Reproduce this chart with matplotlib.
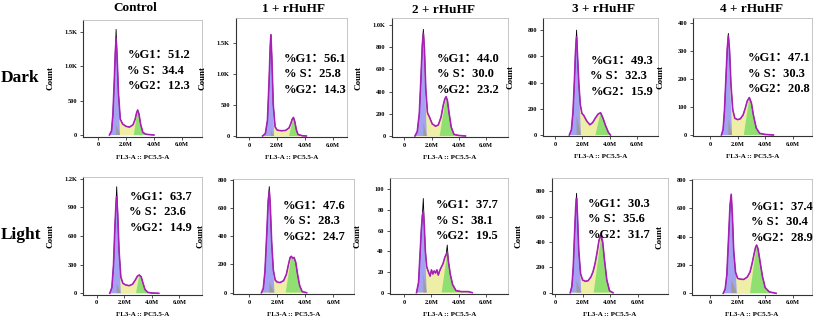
import matplotlib
matplotlib.use("Agg")
import matplotlib.pyplot as plt
from matplotlib.patches import Polygon
import numpy as np

# ------------------------------------------------------------------ data
conditions = ["Control", "1 + rHuHF", "2 + rHuHF", "3 + rHuHF", "4 + rHuHF"]
row_names = ["Dark", "Light"]

dark_g1 = [51.2, 56.1, 44.0, 49.3, 47.1]
dark_s = [34.4, 25.8, 30.0, 32.3, 30.3]
dark_g2 = [12.3, 14.3, 23.2, 15.9, 20.8]
light_g1 = [63.7, 47.6, 37.7, 30.3, 37.4]
light_s = [23.6, 28.3, 38.1, 35.6, 30.4]
light_g2 = [14.9, 24.7, 19.5, 31.7, 28.9]

# fitted envelope (FL3-A in millions, count)
dark_ctrl_x = [0.80, 0.95, 1.05, 1.15, 1.22, 1.28, 1.35, 1.45, 1.58, 1.75, 2.0, 2.25, 2.5, 2.65, 2.75, 2.83, 2.92, 3.05, 3.2, 3.4, 3.7, 4.0]
dark_ctrl_y = [0, 60, 300, 800, 1200, 1400, 1150, 600, 230, 160, 125, 115, 150, 230, 320, 363, 310, 150, 40, 12, 5, 0]
dark_r1_x = [0.95, 1.15, 1.3, 1.42, 1.5, 1.55, 1.62, 1.72, 1.85, 2.0, 2.3, 2.6, 2.85, 2.98, 3.08, 3.17, 3.26, 3.38, 3.5, 3.8, 4.1]
dark_r1_y = [0, 40, 250, 900, 1450, 1630, 1250, 500, 150, 95, 85, 90, 130, 200, 270, 300, 240, 100, 25, 5, 0]
dark_r2_x = [0.78, 0.95, 1.1, 1.22, 1.32, 1.40, 1.48, 1.58, 1.7, 1.85, 2.05, 2.3, 2.5, 2.7, 2.85, 2.97, 3.07, 3.17, 3.3, 3.45, 3.65, 4.0, 4.5]
dark_r2_y = [0, 40, 200, 520, 820, 925, 780, 420, 210, 170, 110, 88, 100, 170, 270, 330, 354, 320, 200, 80, 15, 5, 0]
dark_r3_x = [1.05, 1.2, 1.32, 1.42, 1.5, 1.58, 1.65, 1.75, 1.85, 1.97, 2.1, 2.3, 2.55, 2.75, 2.95, 3.15, 3.33, 3.5, 3.7, 3.9, 4.05]
dark_r3_y = [0, 40, 180, 420, 640, 750, 600, 380, 230, 165, 150, 110, 78, 95, 130, 160, 170, 130, 70, 20, 0]
dark_r4_x = [0.83, 0.95, 1.05, 1.15, 1.25, 1.33, 1.42, 1.52, 1.65, 1.8, 2.0, 2.2, 2.4, 2.55, 2.7, 2.85, 3.0, 3.15, 3.35, 3.6, 4.0, 4.6]
dark_r4_y = [0, 20, 90, 200, 310, 355, 300, 180, 90, 60, 55, 58, 72, 95, 122, 134, 115, 70, 25, 6, 2, 0]

light_ctrl_x = [0.95, 1.1, 1.22, 1.32, 1.4, 1.45, 1.52, 1.62, 1.75, 1.9, 2.1, 2.35, 2.6, 2.8, 2.95, 3.09, 3.22, 3.35, 3.5, 3.7, 4.0, 4.5]
light_ctrl_y = [0, 60, 300, 700, 950, 1013, 850, 450, 170, 105, 88, 80, 95, 140, 180, 192, 175, 110, 40, 10, 3, 0]
light_r1_x = [0.87, 1.0, 1.12, 1.25, 1.35, 1.43, 1.5, 1.6, 1.72, 1.85, 2.0, 2.2, 2.45, 2.65, 2.8, 2.92, 3.0, 3.1, 3.2, 3.32, 3.45, 3.6, 3.78, 4.1]
light_r1_y = [0, 30, 150, 420, 650, 721, 620, 360, 160, 90, 75, 72, 85, 130, 200, 250, 258, 245, 250, 215, 130, 50, 8, 0]
light_r2_x = [0.9, 1.05, 1.15, 1.25, 1.33, 1.4, 1.47, 1.55, 1.65, 1.78, 1.9, 2.0, 2.1, 2.2, 2.3, 2.4, 2.5, 2.6, 2.7, 2.85, 2.98, 3.08, 3.16, 3.25, 3.38, 3.55, 3.8, 4.2, 4.7, 5.0]
light_r2_y = [0, 10, 35, 60, 75, 78, 65, 40, 25, 20, 16, 22, 18, 21, 19, 22, 17, 21, 24, 28, 34, 37, 38, 30, 18, 8, 2, 1, 1, 0]
light_r3_x = [1.1, 1.22, 1.32, 1.42, 1.5, 1.56, 1.63, 1.72, 1.85, 2.0, 2.2, 2.4, 2.6, 2.75, 2.9, 3.05, 3.18, 3.28, 3.35, 3.45, 3.58, 3.75, 3.95, 4.2]
light_r3_y = [0, 50, 200, 480, 680, 743, 600, 330, 150, 100, 90, 95, 125, 165, 230, 320, 410, 450, 454, 400, 260, 100, 15, 0]
light_r4_x = [0.96, 1.1, 1.22, 1.35, 1.45, 1.54, 1.62, 1.72, 1.85, 2.0, 2.2, 2.45, 2.7, 2.9, 3.05, 3.2, 3.3, 3.38, 3.48, 3.62, 3.8, 4.0, 4.3, 4.8]
light_r4_y = [0, 30, 130, 400, 620, 700, 560, 300, 150, 106, 100, 98, 115, 150, 210, 280, 325, 341, 315, 230, 120, 40, 10, 0]

# raw histogram peak heights (black line)
dark_raw_g1 = [1536, 1640, 961, 801, 364]
dark_raw_g2 = [363, 300, 354, 170, 134]
light_raw_g1 = [1118, 752, 91, 783, 700]
light_raw_g2 = [192, 258, 46, 427, 341]

# model component boundaries
dark_g1_end = [1.56, 1.78, 1.65, 1.9, 1.6]
dark_s_level = [150, 90, 120, 150, 58]
dark_g2_start = [2.55, 2.85, 2.6, 2.95, 2.45]
light_g1_end = [1.75, 1.8, 1.65, 1.9, 1.95]
light_s_level = [100, 75, 18, 95, 100]
light_g2_start = [2.85, 2.6, 2.75, 2.8, 2.9]

dark_yticks = [[0, 500, 1000, 1500], [0, 500, 1000, 1500], [0, 200, 400, 600, 800, 1000],
               [0, 200, 400, 600, 800], [0, 100, 200, 300, 400]]
light_yticks = [[0, 300, 600, 900, 1200], [0, 200, 400, 600, 800], [0, 20, 40, 60, 80, 100],
                [0, 200, 400, 600, 800], [0, 200, 400, 600, 800]]
x_ticks = [0, 2, 4, 6]
x_tick_labels = ["0", "2.0M", "4.0M", "6.0M"]

# ------------------------------------------------------------------ layout (pixels)
W, H = 817, 324
layout_dark = [
    dict(box=(83.3, 202.3, 20, 136.7), xlim=(-1.08, 7.48), ylim=(-25, 1672), txt=(0.37, 0.70)),
    dict(box=(236, 346.7, 18.3, 137), xlim=(-0.96, 7.0), ylim=(-16, 1898), txt=(0.43, 0.66)),
    dict(box=(391.7, 508.3, 18.3, 137), xlim=(-0.93, 7.65), ylim=(-9, 1060), txt=(0.39, 0.66)),
    dict(box=(543.3, 658.3, 18.3, 136), xlim=(-0.85, 7.54), ylim=(-7.6, 891), txt=(0.41, 0.64)),
    dict(box=(693.3, 811.7, 18.3, 136), xlim=(-1.21, 7.37), ylim=(-3.6, 418), txt=(0.46, 0.66)),
]
layout_light = [
    dict(box=(83.3, 201.7, 176.7, 294.5), xlim=(-0.97, 7.61), ylim=(-12.6, 1223), txt=(0.39, 0.83)),
    dict(box=(233.3, 354, 179, 294), xlim=(-1.14, 7.48), ylim=(-9.2, 806), txt=(0.41, 0.77)),
    dict(box=(390, 508.3, 178.3, 294), xlim=(-1.05, 7.65), ylim=(-1.3, 110.5), txt=(0.39, 0.77)),
    dict(box=(551.7, 668.3, 178.3, 294), xlim=(-0.24, 8.2), ylim=(-10, 901), txt=(0.31, 0.78)),
    dict(box=(692.3, 811.7, 179, 294.5), xlim=(-1.28, 7.37), ylim=(-8.5, 808), txt=(0.49, 0.76)),
]
title_pos = [(135, 8), (293, 9.5), (443, 10), (604, 8.5), (751.7, 9.5)]
row_pos = [(20, 78), (21, 235)]

SERIF = ["Liberation Serif", "DejaVu Serif"]
TXT = ["Liberation Serif", "Noto Sans CJK SC", "DejaVu Sans"]
BLUE, YELLOW, GREEN, GRAY = "#a3a3f2", "#eeeea6", "#8fe070", "#9c9c9c"
MAGENTA = "#b41ec4"

fig = plt.figure(figsize=(W / 100, H / 100), dpi=100)


def ylab(v):
    if v == 0:
        return "0"
    if v >= 1000:
        return f"{v / 1000:.1f}K"
    return str(v)


def draw_panel(lay, xs, ys, raw1, raw2, g1_end, s_level, g2_start, yt, pcts):
    l, r, t, b = lay["box"]
    ax = fig.add_axes([l / W, 1 - b / H, (r - l) / W, (b - t) / H])
    axw, axh = r - l, b - t
    x = np.asarray(xs, float)
    y = np.asarray(ys, float)
    big = y.max() * 3
    # yellow base (S)
    base = ax.fill_between(x, y, 0, color=YELLOW, lw=0, zorder=1)
    clip = base.get_paths()[0]
    i1 = int(np.argmax(np.where(x < g1_end, y, -1)))
    i2 = int(np.argmax(np.where(x > g2_start, y, -1)))
    xmin, xmax = x[0] - 1, x[-1] + 1
    polys = [
        (Polygon([(xmin, 0), (xmin, big), (x[i1], big), (x[i1], y[i1]), (g1_end, 0)]), BLUE),
        (Polygon([(x[i1], 0), (x[i1], s_level), (g1_end, 0)]), GRAY),
        (Polygon([(g2_start, 0), (x[i2], y[i2]), (x[i2], big), (xmax, big), (xmax, 0)]), GREEN),
    ]
    for p, c in polys:
        p.set_facecolor(c)
        p.set_edgecolor("none")
        p.set_zorder(2)
        ax.add_patch(p)
        p.set_clip_path(clip, ax.transData)
    yraw = y.copy()
    yraw[i1] = raw1
    yraw[i2] = raw2
    ax.plot(x, yraw, color="black", lw=0.6, zorder=3)
    ax.plot(x, y, color=MAGENTA, lw=1.2, zorder=4, alpha=0.9)

    ax.set_xlim(*lay["xlim"])
    ax.set_ylim(*lay["ylim"])
    ax.set_xticks(x_ticks)
    ax.set_xticklabels(x_tick_labels)
    ax.set_yticks(yt)
    ax.set_yticklabels([ylab(v) for v in yt])
    for lbl in ax.get_xticklabels() + ax.get_yticklabels():
        lbl.set_fontfamily(SERIF)
        lbl.set_fontweight("bold")
        lbl.set_fontsize(4.6)
    ax.tick_params(axis="both", direction="out", length=2, width=0.6, color="#333333")
    ax.tick_params(axis="x", pad=2)
    ax.tick_params(axis="y", pad=2.5)
    for s in ("left", "bottom"):
        ax.spines[s].set_color("#333333")
        ax.spines[s].set_linewidth(0.8)
    for s in ("top", "right"):
        ax.spines[s].set_color("#bdbdbd")
        ax.spines[s].set_linewidth(0.6)
    ax.set_ylabel("Count", fontsize=6.5, fontweight="bold", family=SERIF)
    ax.yaxis.set_label_coords(-29 / axw, 0.5)
    ax.set_xlabel("FL3-A :: PC5.5-A", fontsize=5, fontweight="bold", family=SERIF)
    ax.xaxis.set_label_coords(0.5, -18 / axh)

    tx, ty = lay["txt"]
    dy = 15.5 / axh
    labels = ["%G1：", "% S：", "%G2："]
    for k, (lab, val) in enumerate(zip(labels, pcts)):
        ax.text(tx, ty - k * dy, f"{lab}{val:.1f}", transform=ax.transAxes,
                ha="left", va="center", fontsize=9, fontweight="bold",
                family=TXT, zorder=6)
    return ax


dark_x = [dark_ctrl_x, dark_r1_x, dark_r2_x, dark_r3_x, dark_r4_x]
dark_y = [dark_ctrl_y, dark_r1_y, dark_r2_y, dark_r3_y, dark_r4_y]
light_x = [light_ctrl_x, light_r1_x, light_r2_x, light_r3_x, light_r4_x]
light_y = [light_ctrl_y, light_r1_y, light_r2_y, light_r3_y, light_r4_y]

for i in range(5):
    draw_panel(layout_dark[i], dark_x[i], dark_y[i], dark_raw_g1[i], dark_raw_g2[i],
               dark_g1_end[i], dark_s_level[i], dark_g2_start[i], dark_yticks[i],
               (dark_g1[i], dark_s[i], dark_g2[i]))
    draw_panel(layout_light[i], light_x[i], light_y[i], light_raw_g1[i], light_raw_g2[i],
               light_g1_end[i], light_s_level[i], light_g2_start[i], light_yticks[i],
               (light_g1[i], light_s[i], light_g2[i]))

for name, (px, py) in zip(conditions, title_pos):
    fig.text(px / W, 1 - py / H, name, ha="center", va="center", fontsize=9.5,
             fontweight="bold", family=SERIF)
for name, (px, py) in zip(row_names, row_pos):
    fig.text(px / W, 1 - py / H, name, ha="center", va="center", fontsize=12.5,
             fontweight="bold", family=SERIF)

fig.savefig("out.png", dpi=100)
